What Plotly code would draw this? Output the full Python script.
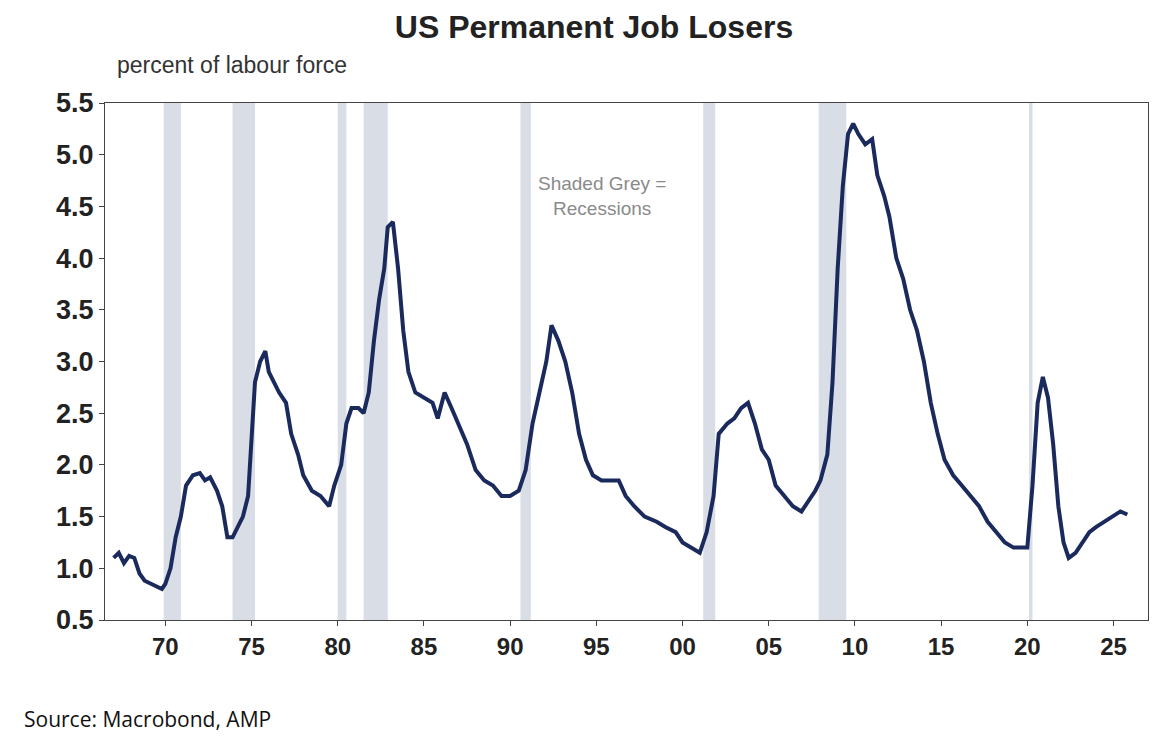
import plotly.graph_objects as go

# Approximate series (year, percent of labour force)
years = [1967.0, 1967.3, 1967.6, 1967.9, 1968.2, 1968.5, 1968.8, 1969.2, 1969.5, 1969.8,
         1970.0, 1970.3, 1970.6, 1970.9, 1971.2, 1971.6, 1972.0, 1972.3, 1972.6, 1973.0,
         1973.3, 1973.6, 1973.9, 1974.2, 1974.5, 1974.8, 1975.0, 1975.2, 1975.5, 1975.8,
         1976.0, 1976.3, 1976.6, 1977.0, 1977.3, 1977.7, 1978.0, 1978.5, 1979.0, 1979.5,
         1979.8, 1980.2, 1980.5, 1980.8, 1981.2, 1981.5, 1981.8, 1982.1, 1982.4, 1982.7,
         1982.9, 1983.2, 1983.5, 1983.8, 1984.1, 1984.5, 1985.0, 1985.5, 1985.8, 1986.2,
         1986.6, 1987.0, 1987.5, 1988.0, 1988.5, 1989.0, 1989.5, 1990.0, 1990.5, 1990.9,
         1991.3, 1991.7, 1992.1, 1992.4, 1992.8, 1993.2, 1993.6, 1994.0, 1994.4, 1994.8,
         1995.3, 1995.8, 1996.3, 1996.7, 1997.2, 1997.8, 1998.5, 1999.0, 1999.6, 2000.0,
         2000.5, 2001.0, 2001.4, 2001.8, 2002.1, 2002.6, 2003.0, 2003.4, 2003.8, 2004.2,
         2004.6, 2005.0, 2005.4, 2005.9, 2006.4, 2006.9, 2007.3, 2007.7, 2008.0, 2008.4,
         2008.7, 2009.0, 2009.3, 2009.6, 2009.9, 2010.2, 2010.6, 2011.0, 2011.3, 2011.7,
         2012.0, 2012.4, 2012.8, 2013.2, 2013.6, 2014.0, 2014.4, 2014.8, 2015.2, 2015.7,
         2016.2, 2016.7, 2017.2, 2017.7, 2018.2, 2018.7, 2019.2, 2019.7, 2020.0, 2020.3,
         2020.6, 2020.9, 2021.2, 2021.5, 2021.8, 2022.1, 2022.4, 2022.8, 2023.2, 2023.6,
         2024.0, 2024.5, 2025.0, 2025.4, 2025.8]
values = [1.1, 1.15, 1.05, 1.12, 1.1, 0.95, 0.88, 0.85, 0.82, 0.8,
          0.85, 1.0, 1.3, 1.5, 1.8, 1.9, 1.92, 1.85, 1.88, 1.75,
          1.6, 1.3, 1.3, 1.4, 1.5, 1.7, 2.3, 2.8, 3.0, 3.1,
          2.9, 2.8, 2.7, 2.6, 2.3, 2.1, 1.9, 1.75, 1.7, 1.6,
          1.8, 2.0, 2.4, 2.55, 2.55, 2.5, 2.7, 3.2, 3.6, 3.9,
          4.3, 4.35, 3.9, 3.3, 2.9, 2.7, 2.65, 2.6, 2.45, 2.7,
          2.55, 2.4, 2.2, 1.95, 1.85, 1.8, 1.7, 1.7, 1.75, 1.95,
          2.4, 2.7, 3.0, 3.35, 3.2, 3.0, 2.7, 2.3, 2.05, 1.9,
          1.85, 1.85, 1.85, 1.7, 1.6, 1.5, 1.45, 1.4, 1.35, 1.25,
          1.2, 1.15, 1.35, 1.7, 2.3, 2.4, 2.45, 2.55, 2.6, 2.4,
          2.15, 2.05, 1.8, 1.7, 1.6, 1.55, 1.65, 1.75, 1.85, 2.1,
          2.8, 3.9, 4.7, 5.2, 5.3, 5.2, 5.1, 5.15, 4.8, 4.6,
          4.4, 4.0, 3.8, 3.5, 3.3, 3.0, 2.6, 2.3, 2.05, 1.9,
          1.8, 1.7, 1.6, 1.45, 1.35, 1.25, 1.2, 1.2, 1.2, 1.8,
          2.6, 2.85, 2.65, 2.2, 1.6, 1.25, 1.1, 1.15, 1.25, 1.35,
          1.4, 1.45, 1.5, 1.55, 1.52]

# Recession periods (start, end)
recessions = [(1969.9, 1970.9), (1973.9, 1975.2), (1980.0, 1980.5), (1981.5, 1982.9),
              (1990.6, 1991.2), (2001.2, 2001.9), (2007.9, 2009.5), (2020.1, 2020.3)]

tick_years = [1970, 1975, 1980, 1985, 1990, 1995, 2000, 2005, 2010, 2015, 2020, 2025]
tick_labels = ['70', '75', '80', '85', '90', '95', '00', '05', '10', '15', '20', '25']

fig = go.Figure()
fig.add_trace(go.Scatter(x=years, y=values, mode='lines',
                         line=dict(color='#1b2a5c', width=4), showlegend=False))

for start, end in recessions:
    fig.add_vrect(x0=start, x1=end, fillcolor='#d9dde6', opacity=1,
                  line_width=0, layer='below')

fig.add_annotation(x=1995.3, y=4.6, text='Shaded Grey =<br>Recessions', showarrow=False,
                   font=dict(family='Liberation Sans', size=19, color='#8a8a8a'))

fig.update_layout(
    width=1172, height=749,
    paper_bgcolor='white', plot_bgcolor='white',
    margin=dict(l=97, r=32, t=95, b=137),
    title=dict(text='<b>US Permanent Job Losers</b>', x=0.5, xanchor='center', y=0.99,
               yanchor='top', font=dict(family='Liberation Sans', size=32, color='#222')),
    font=dict(family='Liberation Sans', color='#222'),
)
fig.add_annotation(xref='paper', yref='paper', x=0.01, y=1.045, xanchor='left', yanchor='bottom',
                   text='percent of labour force', showarrow=False,
                   font=dict(family='Liberation Sans', size=23, color='#333'))
fig.add_annotation(xref='paper', yref='paper', x=-0.08, y=-0.16, xanchor='left', yanchor='top',
                   text='Source: Macrobond, AMP', showarrow=False,
                   font=dict(family='Open Sans', size=21, color='#111'))

fig.update_xaxes(range=[1966.5, 2027], tickvals=tick_years, ticktext=tick_labels,
                 showgrid=False, showline=True, linecolor='#444', mirror=True,
                 ticks='outside', ticklen=5, tickcolor='#444',
                 tickfont=dict(family='Liberation Sans', size=24, color='#222', weight='bold'))
fig.update_yaxes(range=[0.5, 5.5], dtick=0.5, tickformat='.1f',
                 showgrid=False, showline=True, linecolor='#444', mirror=True,
                 ticks='outside', ticklen=5, tickcolor='#444',
                 tickfont=dict(family='Liberation Sans', size=27, color='#222', weight='bold'))

fig.write_html("out.html")
